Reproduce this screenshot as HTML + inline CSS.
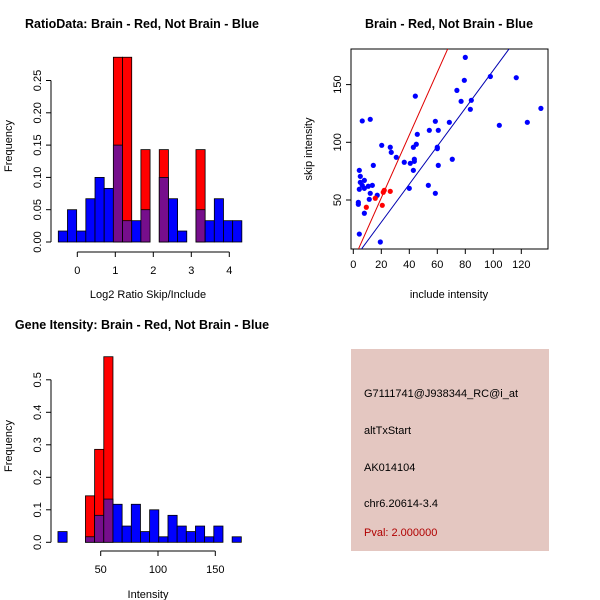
<!DOCTYPE html>
<html><head><meta charset="utf-8"><style>
body{margin:0;background:#fff;}
svg{display:block;font-family:"Liberation Sans",sans-serif;}
</style></head><body>
<svg id="c" width="600" height="600" xmlns="http://www.w3.org/2000/svg">
<rect width="600" height="600" fill="#fff"/>
<g id="p1"></g>
<g id="p2"></g>
<g id="p3"></g>
<g>
<rect x="351" y="349" width="198" height="202" fill="#e4c7c1"/>
<text x="364" y="397" font-size="11">G7111741@J938344_RC@i_at</text>
<text x="364" y="434" font-size="11">altTxStart</text>
<text x="364" y="471" font-size="11">AK014104</text>
<text x="364" y="507" font-size="11">chr6.20614-3.4</text>
<text x="364" y="536" font-size="11" fill="#b00000">Pval: 2.000000</text>
</g>
</svg>
<script>
// ---- Histogram 1 data ----
const h1Start = -0.5, h1Width = 0.2415;
const h1Blue = [0.017,0.05,0.017,0.067,0.10,0.083,0.15,0.033,0.033,0.05,0,0.10,0.067,0.017,0,0.05,0.033,0.067,0.033,0.033];
const h1Red  = [0,0,0,0,0,0,0.286,0.286,0,0.143,0,0.143,0,0,0,0.143,0,0,0,0];
const h1XTicks = [0,1,2,3,4];
const h1YTicks = ["0.00","0.05","0.10","0.15","0.20","0.25"];
// ---- Histogram 2 data ----
const h2Start = 12.7, h2Width = 8;
const h2Blue = [0.033,0,0,0.017,0.083,0.133,0.117,0.05,0.117,0.033,0.10,0.017,0.083,0.05,0.033,0.05,0.017,0.05,0,0.017];
const h2Red  = [0,0,0,0.143,0.286,0.571,0,0,0,0,0,0,0,0,0,0,0,0,0,0];
const h2XTicks = [50,100,150];
const h2YTicks = ["0.0","0.1","0.2","0.3","0.4","0.5"];
// ---- Scatter data ----
const blueX = [80,97.9,116.4,79.3,134,74,77,84.3,83.6,44.3,104.3,124.3,6.4,12.1,58.6,68.6,54.3,60.7,45.7,45,42.9,60,60,20.3,26.4,27.1,30.7,70.7,36.4,40.7,43.6,43.6,42.9,60.7,14.3,4.3,5,7.9,5,6.4,10.7,13.6,4.3,7.9,12.1,17.1,11.4,40,53.6,58.6,3.6,3.6,7.9,4.3,19.3];
const blueY = [173.6,157,156,153.7,129.4,145,135.5,136.4,128.6,140,114.7,117.3,118.5,119.9,118.2,117.3,110.4,110.4,106.9,98.3,95.7,95.7,94.5,97.4,95.7,91.3,87,85.3,82.7,81.8,85.3,83.5,75.7,80,80,75.7,70.5,67,65.3,62.7,61.9,62.7,59.3,60.1,55.8,54.1,50.6,60.1,62.7,55.8,48,46.3,38.5,20.5,13.6];
const redX = [9.3,15.7,20.7,21.4,22.1,26.4];
const redY = [43.7,51.5,45.4,56.7,58.4,57.5];
const redFit = [-2.5,2.72];
const blueFit = [-2.1,1.645];
const scXTicks = [0,20,40,60,80,100,120];
const scYTicks = [50,100,150];

const NS="http://www.w3.org/2000/svg";
function mk(parent,tag,attrs,text){const e=document.createElementNS(NS,tag);for(const k in attrs)e.setAttribute(k,attrs[k]);if(text!==undefined)e.textContent=text;parent.appendChild(e);return e;}

function hist(g,o){
  const sx=v=>o.x0+(v-o.xv0)*o.xs, sy=v=>o.y0-v*o.ys;
  for(let i=0;i<o.blue.length;i++){
    const a=o.start+i*o.width,b=a+o.width;
    const x1=sx(a),x2=sx(b),bl=o.blue[i],rd=o.red[i];
    if(rd>0){const r=mk(g,'rect',{x:x1,y:sy(rd),width:x2-x1,height:sy(0)-sy(rd),fill:'#ff0000',stroke:'#000','stroke-width':0.8});
      
      }
    if(bl>0){const col=rd>0?'#760e8c':'#0000ff';
      const r=mk(g,'rect',{x:x1,y:sy(bl),width:x2-x1,height:sy(0)-sy(bl),fill:col,stroke:'#000','stroke-width':0.8});
      
      }
  }
  // y axis
  const yv=o.yTicks.map(Number);
  mk(g,'line',{x1:o.yax,x2:o.yax,y1:sy(yv[0]),y2:sy(yv[yv.length-1]),stroke:'#000'});
  o.yTicks.forEach((t,i)=>{const y=sy(yv[i]);mk(g,'line',{x1:o.yax,x2:o.yax-5,y1:y,y2:y,stroke:'#000'});
    const tx=mk(g,'text',{x:0,y:0,'font-size':11,'text-anchor':'middle',transform:`translate(${o.yax-10},${y}) rotate(-90)`},t);
    
    });
  // x axis
  const xt=o.xTicks;
  mk(g,'line',{x1:sx(xt[0]),x2:sx(xt[xt.length-1]),y1:o.xax,y2:o.xax,stroke:'#000'});
  xt.forEach(t=>{const x=sx(t);mk(g,'line',{x1:x,x2:x,y1:o.xax,y2:o.xax+5,stroke:'#000'});
    const tx=mk(g,'text',{x:x,y:o.xax+22,'font-size':11,'text-anchor':'middle'},String(t));
    
    });
}

const p1=document.getElementById('p1');
hist(p1,{x0:77.3,xv0:0,xs:38,y0:242,ys:646,start:h1Start,width:h1Width,blue:h1Blue,red:h1Red,xTicks:h1XTicks,yTicks:h1YTicks,yax:51,xax:252});
const p3=document.getElementById('p3');
hist(p3,{x0:100.7,xv0:50,xs:1.146,y0:542.3,ys:325,start:h2Start,width:h2Width,blue:h2Blue,red:h2Red,xTicks:h2XTicks,yTicks:h2YTicks,yax:51,xax:551});

// titles and labels
function lab(g,attrs,text,name){const t=mk(g,'text',attrs,text);}
lab(p1,{x:142,y:28,'font-size':12.5,'font-weight':'bold','text-anchor':'middle'},'RatioData: Brain - Red, Not Brain - Blue','title');
lab(p1,{x:148,y:298,'font-size':11,'text-anchor':'middle'},'Log2 Ratio Skip/Include','x-axis-title');
lab(p1,{x:0,y:0,'font-size':11,'text-anchor':'middle',transform:'translate(12,146) rotate(-90)'},'Frequency','y-axis-title');
lab(p3,{x:142,y:329,'font-size':12.5,'font-weight':'bold','text-anchor':'middle'},'Gene Itensity: Brain - Red, Not Brain - Blue','title');
lab(p3,{x:148,y:598,'font-size':11,'text-anchor':'middle'},'Intensity','x-axis-title');
lab(p3,{x:0,y:0,'font-size':11,'text-anchor':'middle',transform:'translate(12,446) rotate(-90)'},'Frequency','y-axis-title');

// scatter
const p2=document.getElementById('p2');
const L=351,R=548,T=49,B=249;
const sx=v=>353.3+v*1.4, sy=v=>257.7-v*1.154;
mk(p2,'defs',{}).innerHTML='<clipPath id="clp"><rect x="351" y="49" width="197" height="200"/></clipPath>';
mk(p2,'rect',{x:L,y:T,width:R-L,height:B-T,fill:'none',stroke:'#000'});
const cg=mk(p2,'g',{'clip-path':'url(#clp)'});
function fitLine(f,col,name){const x1=-10,x2=150;const l=mk(cg,'line',{x1:sx(x1),y1:sy(f[0]+f[1]*x1),x2:sx(x2),y2:sy(f[0]+f[1]*x2),stroke:col,'stroke-width':1});
  
  }
fitLine(redFit,'#e00000','red-fit-line');
fitLine(blueFit,'#0000b0','blue-fit-line');
blueX.forEach((v,i)=>{const c=mk(cg,'circle',{cx:sx(v),cy:sy(blueY[i]),r:2.6,fill:'#0000ff'});
  
  });
redX.forEach((v,i)=>{const c=mk(cg,'circle',{cx:sx(v),cy:sy(redY[i]),r:2.6,fill:'#ff0000'});
  
  });
scXTicks.forEach(t=>{const x=sx(t);mk(p2,'line',{x1:x,x2:x,y1:B,y2:B+5,stroke:'#000'});
  const tx=mk(p2,'text',{x:x,y:B+19,'font-size':11,'text-anchor':'middle'},String(t));
  
  });
scYTicks.forEach(t=>{const y=sy(t);mk(p2,'line',{x1:L,x2:L-5,y1:y,y2:y,stroke:'#000'});
  const tx=mk(p2,'text',{x:0,y:0,'font-size':11,'text-anchor':'middle',transform:`translate(${L-10},${y}) rotate(-90)`},String(t));
  
  });
lab(p2,{x:449,y:28,'font-size':12.5,'font-weight':'bold','text-anchor':'middle'},'Brain - Red, Not Brain - Blue','title');
lab(p2,{x:449,y:298,'font-size':11,'text-anchor':'middle'},'include intensity','x-axis-title');
lab(p2,{x:0,y:0,'font-size':11,'text-anchor':'middle',transform:'translate(312,149) rotate(-90)'},'skip intensity','y-axis-title');
</script>
</body></html>
